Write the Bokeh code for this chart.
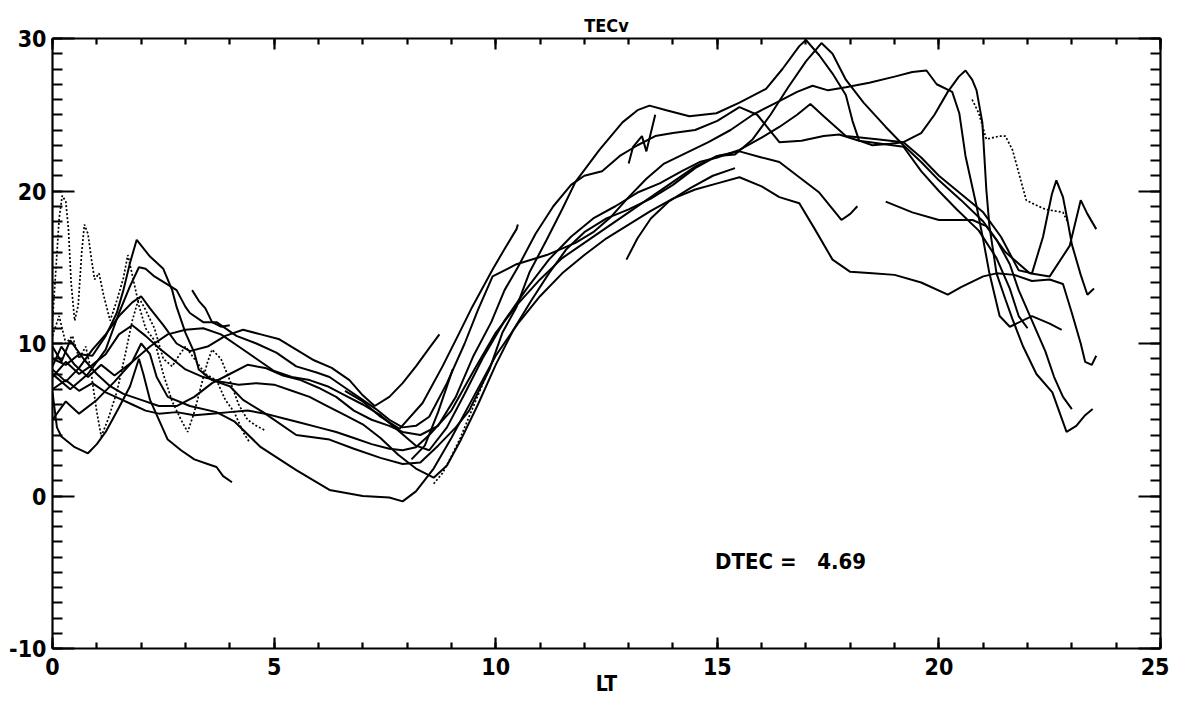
from bokeh.plotting import figure
from bokeh.models import Range1d, LinearAxis, SingleIntervalTicker, Label, CustomJSTickFormatter
from bokeh.embed import file_html
from bokeh.resources import INLINE

# ---- data: (LT, TECv) points ----
day_t1 = [(0,9.0),(0.3,8.6),(0.6,9.3),(0.9,9.2),(1.2,10.5),(1.45,12.0),(1.6,13.5),(1.75,15.3),(1.9,16.8),(2.2,15.7),(2.5,14.9),(2.7,13.5),(2.8,12.4),(3.0,10.7),(3.2,9.4),(3.3,8.3),(3.6,7.6),(4.0,7.2),(4.3,6.3),(4.75,5.5),(5.5,4.0),(6.25,3.7),(6.8,3.1),(7.4,2.5),(7.9,2.1),(8.3,2.2),(8.7,3.3),(9.1,4.5),(9.4,5.6),(9.86,8.3),(10.15,10.7),(10.47,12.4),(10.76,14.65),(11.15,16.8),(11.5,18.8),(11.8,20.6),(12.34,22.7),(12.86,24.5),(13.2,25.3),(13.47,25.6),(13.85,25.3),(14.37,24.9),(14.98,25.1),(15.5,25.8),(16.1,26.7),(16.47,28.0),(16.85,29.5),(17.0,29.9),(17.3,28.9),(17.6,27.7),(17.9,26.3),(18.05,24.6),(18.2,23.3),(18.5,23.0),(18.9,23.1),(19.2,23.2),(19.6,23.8),(19.9,25.0),(20.2,26.5),(20.45,27.5),(20.6,27.9),(20.75,27.3),(20.85,26.6),(20.98,24.5),(21.07,20.1),(21.14,17.7),(21.3,14.6),(21.5,12.9),(21.66,11.6),(21.9,9.8),(22.2,8.0),(22.56,6.8),(22.88,4.2),(23.1,4.6),(23.3,5.3),(23.47,5.7)]
day_p2 = [(0,8.0),(0.4,7.0),(0.8,8.0),(1.2,9.6),(1.5,12.0),(1.74,13.7),(1.95,15.0),(2.1,14.9),(2.3,14.4),(2.8,13.5),(3.0,12.4),(3.1,12.0),(3.4,11.4),(3.7,11.4),(4.15,10.5),(4.6,10.0),(5.05,9.4),(5.5,8.5),(5.96,8.1),(6.25,7.8),(6.7,6.9),(7.0,6.3),(7.3,5.7),(7.6,5.0),(7.9,4.5),(8.2,4.6),(8.5,5.2),(8.9,7.4),(9.3,10.0),(9.6,12.2),(9.93,14.4),(10.47,15.2),(11.15,15.8),(11.8,16.6),(12.2,17.3),(12.6,18.3),(13.0,19.6),(13.4,20.8),(13.8,21.8),(14.3,22.5),(14.8,23.2),(15.3,24.0),(15.8,25.0),(16.4,25.9),(16.8,26.5),(17.15,26.9),(17.5,26.6),(17.9,26.8),(18.43,27.1),(19.0,27.5),(19.4,27.8),(19.72,27.9),(19.95,27.0),(20.3,26.5),(20.46,25.1),(20.6,22.3),(20.85,19.0),(21.0,16.8),(21.14,14.6),(21.37,11.8),(21.6,11.1),(22.1,11.8),(22.5,11.3),(22.77,10.9)]
day_p3 = [(0,7.0),(0.3,7.6),(0.6,6.9),(0.9,7.4),(1.2,6.8),(1.5,6.4),(1.8,6.0),(2.1,5.6),(2.4,5.4),(2.8,5.5),(3.2,5.3),(3.6,5.4),(4.0,5.5),(4.4,5.6),(4.8,5.4),(5.2,5.1),(5.6,4.8),(6.0,4.5),(6.4,4.2),(6.8,3.8),(7.2,3.4),(7.6,3.1),(7.9,3.0),(8.2,3.2),(8.5,4.0),(9.0,5.6),(9.5,8.2),(10.0,10.7),(10.5,12.6),(11.0,14.2),(11.5,15.6),(12.0,16.6),(12.5,17.6),(13.0,18.6),(13.5,19.6),(14.0,20.6),(14.5,21.6),(15.0,22.3),(15.4,22.4),(15.8,23.4),(16.2,25.0),(16.6,26.8),(17.0,28.5),(17.35,29.7),(17.6,29.0),(17.9,27.3),(18.3,25.8),(18.8,24.2),(19.2,23.0),(19.6,21.9),(20.0,20.7),(20.5,19.4),(21.0,18.0),(21.3,16.8),(21.6,15.2),(21.8,13.5),(22.1,11.5),(22.4,9.5),(22.6,7.8),(22.8,6.5),(23.0,5.7)]
day_p4 = [(0,8.5),(0.2,9.8),(0.5,8.6),(0.8,7.8),(1.1,8.6),(1.4,7.9),(1.8,8.8),(2.2,9.8),(2.6,10.6),(3.0,10.9),(3.4,11.0),(3.8,10.6),(4.2,9.8),(4.6,9.0),(5.0,8.2),(5.4,7.8),(5.8,7.6),(6.2,7.2),(6.6,6.6),(7.0,6.0),(7.4,5.3),(7.8,4.3),(8.2,3.3),(8.5,3.0),(8.9,4.5),(9.3,6.7),(9.7,9.0),(10.2,11.5),(10.7,13.6),(11.2,15.5),(11.7,17.0),(12.2,18.2),(12.7,19.0),(13.2,19.9),(13.7,20.5),(14.2,21.3),(14.6,21.9),(15.0,22.2),(15.5,22.7),(16.0,23.5),(16.4,24.2),(16.8,25.0),(17.1,25.7),(17.4,24.9),(17.9,23.6),(18.6,23.4),(19.2,23.2),(19.6,22.2),(20.0,21.0),(20.5,19.8),(21.0,18.6),(21.4,17.0),(21.8,14.8),(22.1,14.6),(22.35,17.0),(22.55,19.8),(22.65,20.7),(22.8,19.6),(22.9,18.1),(23.0,16.5),(23.2,14.5),(23.35,13.2),(23.5,13.6)]
day_p5 = [(0,9.8),(0.2,8.8),(0.4,10.2),(0.7,9.0),(1.0,8.0),(1.3,7.2),(1.6,6.7),(2.0,6.3),(2.4,5.9),(2.8,5.9),(3.2,6.5),(3.6,7.4),(4.0,8.0),(4.4,8.6),(4.8,8.4),(5.2,7.9),(5.6,7.6),(6.0,7.1),(6.4,6.5),(6.8,5.6),(7.2,5.0),(7.6,4.6),(7.9,4.2),(8.3,4.0),(8.7,4.6),(9.1,6.5),(9.5,9.2),(9.9,11.4),(10.2,13.5),(10.5,15.0),(10.9,17.2),(11.3,19.0),(11.7,20.4),(12.0,21.0),(12.4,21.3),(12.8,22.3),(13.2,23.0),(13.6,23.6),(14.0,23.8),(14.5,24.0),(15.0,24.6),(15.5,25.5),(15.9,25.0),(16.4,23.2),(16.9,23.3),(17.4,23.6),(17.75,23.7),(18.2,23.3),(18.7,23.1),(19.2,22.9),(19.6,21.3),(20.0,20.0),(20.4,18.8),(20.9,17.4),(21.3,15.6),(21.6,13.6),(21.8,11.8),(22.0,11.0)]
day_p6 = [(0,7.8),(0.3,8.8),(0.6,8.0),(0.9,8.6),(1.2,9.3),(1.5,10.6),(1.8,11.2),(2.1,10.5),(2.4,9.7),(2.7,9.0),(3.0,8.3),(3.4,7.8),(3.8,7.5),(4.2,7.3),(4.6,7.4),(5.0,7.3),(5.4,6.9),(5.8,6.5),(6.2,5.9),(6.6,5.3),(7.0,4.7),(7.4,3.8),(7.8,2.7),(8.2,1.8),(8.6,1.2),(8.9,2.0),(9.2,3.6),(9.6,6.0),(10.0,8.6),(10.4,10.9),(10.8,12.8),(11.2,14.6),(11.6,16.2),(12.0,17.3),(12.5,18.2),(13.0,18.8),(13.5,19.5),(14.0,20.4),(14.5,21.5),(15.0,22.3),(15.5,22.6),(16.0,22.2),(16.4,21.9),(16.85,20.9),(17.3,19.9),(17.8,18.1),(18.0,18.5),(18.16,19.0)]
day_a = [(0,5.0),(0.3,6.2),(0.6,5.4),(1.0,6.3),(1.4,7.5),(1.8,8.8),(2.0,10.0),(2.2,9.3),(2.35,7.8),(2.6,6.5),(3.1,5.9),(3.7,5.5),(4.1,4.9),(4.7,3.2),(5.5,1.7),(6.25,0.4),(7.0,0.0),(7.6,-0.1),(7.9,-0.35),(8.2,0.3),(8.6,1.8),(9.0,3.8),(9.5,6.5),(10.0,9.2),(10.5,11.3),(11.0,13.1),(11.5,14.6),(12.0,15.8),(12.5,16.9),(13.0,17.8),(13.5,18.7),(14.0,19.5),(14.5,20.1),(15.0,20.5),(15.5,20.9),(16.0,20.3),(16.4,19.6),(16.85,19.2),(17.2,17.5),(17.6,15.5),(18.0,14.7),(18.5,14.6),(19.0,14.5),(19.6,14.0),(20.2,13.2),(20.5,13.7),(21.0,14.4),(21.3,14.6),(21.7,14.5),(22.1,14.1),(22.5,14.2),(22.8,13.9),(23.0,12.0),(23.2,10.0),(23.3,8.8),(23.45,8.6),(23.55,9.2)]
day_p7 = [(0,8.3),(0.3,7.5),(0.6,8.4),(0.9,9.6),(1.2,10.6),(1.5,11.8),(1.8,12.7),(2.0,13.1),(2.2,12.3),(2.5,11.2),(2.8,10.0),(3.1,9.5),(3.5,9.8),(3.9,10.5),(4.3,10.9),(4.7,10.6),(5.1,10.3),(5.5,9.6),(5.9,8.9),(6.3,8.4),(6.7,7.6),(7.0,6.6),(7.27,5.9),(7.6,6.5),(7.9,7.4),(8.2,8.5),(8.5,9.7),(8.73,10.6)]
day_p8 = [(18.8,19.3),(19.4,18.6),(20.0,18.1),(20.76,18.1),(21.07,17.7),(21.5,16.0),(22.05,14.6),(22.5,14.4),(22.95,16.4),(23.2,19.4),(23.35,18.5),(23.55,17.5)]
seg_r2 = [(6.6,6.9),(7.0,6.2),(7.4,5.2),(7.83,4.4),(8.35,6.1),(8.8,8.5),(9.18,10.7),(9.47,12.4),(9.93,14.85),(10.2,16.2),(10.47,17.5),(10.5,17.8)]
seg_e = [(0.0,6.8),(0.1,4.5),(0.2,3.9),(0.5,3.2),(0.8,2.8),(1.0,3.4),(1.2,4.2),(1.5,5.8),(1.75,7.2),(1.95,9.0),(2.05,8.0),(2.2,6.3),(2.6,3.7),(2.9,3.0),(3.2,2.4),(3.5,2.1),(3.7,1.9),(3.85,1.3),(4.05,0.9)]
seg_f1 = [(3.15,13.5),(3.3,12.8),(3.45,12.3),(3.6,11.4),(3.8,11.1),(4.0,11.2)]
seg_f3 = [(8.1,2.4),(8.4,3.3),(8.7,5.5),(9.03,8.3)]
seg_f5 = [(12.95,15.5),(13.2,16.9),(13.5,18.2),(13.9,19.3),(14.4,20.2),(14.9,21.0),(15.4,21.5)]
seg_f6 = [(13.0,21.8),(13.1,22.9),(13.3,23.6),(13.4,22.6),(13.5,23.8),(13.6,25.0)]
dot_d1 = [(0.0,11.5),(0.08,15.0),(0.15,18.2),(0.22,19.7),(0.3,19.3),(0.36,17.5),(0.42,14.0),(0.5,11.5),(0.58,12.5),(0.66,16.0),(0.72,17.8),(0.8,17.2),(0.88,15.5),(0.95,14.2),(1.05,14.6),(1.15,13.2),(1.3,11.5),(1.45,12.8),(1.6,14.3),(1.7,15.8),(1.8,14.5),(1.95,12.5),(2.1,11.0),(2.3,10.2),(2.5,8.0),(2.7,6.2),(2.9,5.0),(3.05,4.2),(3.2,5.5),(3.35,7.2),(3.5,8.8),(3.6,9.6),(3.8,9.0),(4.0,7.6),(4.2,6.0),(4.4,5.0),(4.6,4.6),(4.8,4.3)]
dot_d2 = [(0.0,10.5),(0.15,11.8),(0.3,10.0),(0.45,10.5),(0.6,9.0),(0.75,9.8),(0.85,8.5),(1.0,5.5),(1.1,3.9),(1.25,5.0),(1.45,6.8),(1.65,9.4),(1.8,11.5),(1.95,13.0),(2.1,12.2),(2.3,11.0),(2.5,9.0),(2.7,8.5),(2.85,9.2),(3.0,9.8),(3.2,9.0),(3.45,8.0),(3.7,7.6),(3.9,6.3),(4.1,5.5),(4.3,4.2),(4.45,3.5)]
dot_f4 = [(8.6,0.8),(8.8,1.5),(9.0,2.6),(9.2,3.8),(9.4,5.2),(9.6,6.6),(9.8,8.0),(10.0,9.3)]
dot_g1 = [(20.75,26.0),(20.9,25.1),(21.07,23.4),(21.37,23.6),(21.5,23.6),(21.66,22.7),(21.97,19.4),(22.1,19.2),(22.4,18.8),(22.8,18.6),(22.9,18.0)]

solid_curves = [day_t1, day_p2, day_p3, day_p4, day_p5, day_p6, day_a, day_p7, day_p8,
                seg_r2, seg_e, seg_f1, seg_f3, seg_f5, seg_f6]
dotted_curves = [dot_d1, dot_d2, dot_f4, dot_g1]

x_ticks_major = 5
y_ticks_major = 10
title_text = "TECv"
x_title = "LT"
dtec_text = "DTEC = \u00a0\u00a04.69"

FONT = "DejaVu Sans Condensed"

p = figure(frame_width=1108, frame_height=610, output_backend="svg", toolbar_location=None,
           x_range=Range1d(0, 25), y_range=Range1d(-10, 30),
           min_border_left=52, min_border_right=9, min_border_top=38, min_border_bottom=40,
           x_axis_location=None, y_axis_location=None)
p.grid.visible = False
p.outline_line_color = None
p.background_fill_color = "white"
p.border_fill_color = "white"

p.title.text = title_text
p.title.align = "center"
p.title.text_font = FONT
p.title.text_font_size = "18px"
p.title.text_font_style = "bold"
p.title.text_color = "black"
p.title.standoff = 6

def make_axis(kind, labels):
    if kind == "x":
        t = SingleIntervalTicker(interval=x_ticks_major, num_minor_ticks=5)
        maj, mnr = 11, 6
    else:
        t = SingleIntervalTicker(interval=y_ticks_major, num_minor_ticks=10)
        maj, mnr = 22, 10
    ax = LinearAxis(ticker=t)
    ax.axis_line_width = 2.2
    ax.major_tick_line_width = 2.2
    ax.minor_tick_line_width = 2.2
    ax.major_tick_in = maj
    ax.major_tick_out = 0
    ax.minor_tick_in = mnr
    ax.minor_tick_out = 0
    ax.major_label_text_font = FONT
    ax.major_label_text_font_style = "bold"
    ax.major_label_text_font_size = "23px"
    ax.major_label_text_color = "black"
    ax.major_label_standoff = 6
    if labels:
        ax.formatter = CustomJSTickFormatter(code="return tick.toFixed(0)")
    else:
        ax.formatter = CustomJSTickFormatter(code="return ''")
        ax.major_label_standoff = 0
    return ax

bottom = make_axis("x", True)
bottom.major_label_standoff = 9
bottom.axis_label = x_title
bottom.axis_label_text_font = FONT
bottom.axis_label_text_font_style = "bold"
bottom.axis_label_text_font_size = "21px"
bottom.axis_label_text_color = "black"
bottom.axis_label_standoff = -6
p.add_layout(bottom, "below")
top = make_axis("x", False)
top.major_label_standoff = 11
p.add_layout(top, "above")
p.add_layout(make_axis("y", True), "left")
p.add_layout(make_axis("y", False), "right")

for c in solid_curves:
    p.line([pt[0] for pt in c], [pt[1] for pt in c], line_color="black", line_width=2.0)
for c in dotted_curves:
    p.line([pt[0] for pt in c], [pt[1] for pt in c], line_color="black", line_width=1.7,
           line_dash="2 2")

p.add_layout(Label(x=14.95, y=-4.3, text=dtec_text, text_font=FONT, text_font_style="bold",
                   text_font_size="22px", text_color="black",
                   text_baseline="middle", text_align="left"))

open("out.html", "w").write(file_html(p, INLINE))
